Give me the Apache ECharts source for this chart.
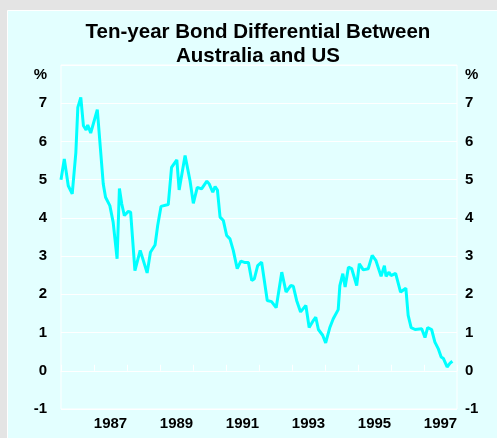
<!DOCTYPE html>
<html>
<head>
<meta charset="utf-8">
<script src="https://cdn.jsdelivr.net/npm/echarts@6/dist/echarts.min.js"></script>
<style>
    html, body { margin: 0; padding: 0; background: #e4e4e4; }
    #chart { width: 497px; height: 438px; }
</style>
</head>
<body>
<div id="chart"></div>
<script>
// decimal year of each reading, and the spread in percentage points
const dates = [
    1986.00, 1986.10, 1986.22, 1986.34, 1986.45, 1986.51, 1986.60, 1986.68, 1986.76, 1986.81,
    1986.90, 1987.10, 1987.28, 1987.35, 1987.48, 1987.58, 1987.70, 1987.77, 1987.84, 1987.92,
    1988.04, 1988.11, 1988.24, 1988.40, 1988.46, 1988.61, 1988.71, 1988.85, 1988.93, 1989.03,
    1989.25, 1989.35, 1989.51, 1989.58, 1989.76, 1989.91, 1990.01, 1990.13, 1990.26, 1990.42,
    1990.49, 1990.60, 1990.67, 1990.74, 1990.82, 1990.92, 1991.02, 1991.12, 1991.22, 1991.34,
    1991.45, 1991.58, 1991.68, 1991.78, 1991.86, 1991.96, 1992.08, 1992.25, 1992.38, 1992.52,
    1992.69, 1992.82, 1992.96, 1993.04, 1993.14, 1993.26, 1993.32, 1993.42, 1993.52, 1993.65,
    1993.72, 1993.80, 1993.93, 1994.02, 1994.15, 1994.25, 1994.40, 1994.45, 1994.54, 1994.61,
    1994.71, 1994.81, 1994.96, 1995.04, 1995.16, 1995.31, 1995.43, 1995.54, 1995.70, 1995.80,
    1995.85, 1995.94, 1996.00, 1996.14, 1996.29, 1996.35, 1996.45, 1996.52, 1996.61, 1996.73,
    1996.93, 1997.03, 1997.11, 1997.23, 1997.33, 1997.43, 1997.52, 1997.59, 1997.70, 1997.79,
    1997.86
]
const spread = [
    5.00, 5.54, 4.84, 4.63, 5.71, 6.89, 7.15, 6.41, 6.30, 6.43,
    6.22, 6.83, 4.89, 4.54, 4.32, 3.89, 2.93, 4.77, 4.37, 4.06,
    4.17, 4.15, 2.62, 3.15, 3.10, 2.56, 3.10, 3.29, 3.80, 4.30,
    4.35, 5.32, 5.52, 4.73, 5.63, 4.97, 4.38, 4.80, 4.76, 4.96,
    4.89, 4.67, 4.82, 4.73, 4.02, 3.93, 3.54, 3.45, 3.15, 2.67,
    2.87, 2.83, 2.83, 2.36, 2.41, 2.75, 2.84, 1.84, 1.81, 1.65,
    2.58, 2.06, 2.23, 2.21, 1.84, 1.54, 1.58, 1.71, 1.13, 1.32,
    1.40, 1.08, 0.93, 0.73, 1.14, 1.36, 1.60, 2.23, 2.54, 2.19,
    2.71, 2.67, 2.23, 2.80, 2.64, 2.67, 3.02, 2.89, 2.47, 2.75,
    2.47, 2.58, 2.49, 2.55, 2.06, 2.06, 2.16, 1.45, 1.13, 1.08,
    1.10, 0.87, 1.13, 1.08, 0.75, 0.58, 0.36, 0.32, 0.10, 0.20,
    0.25
]
const yearLabels = [1987, 1989, 1991, 1993, 1995, 1997]
const titleLines = ['Ten-year Bond Differential Between', 'Australia and US']

const font = 'Liberation Sans, Arial, sans-serif'
const chart = echarts.init(document.getElementById('chart'))

const yAxisBase = {
    type: 'value',
    min: -1,
    max: 8,
    interval: 1,
    axisLine: { show: false },
    axisTick: { show: false },
    splitLine: { lineStyle: { color: '#ffffff', width: 1 } }
}
const labelStyle = { fontFamily: font, fontSize: 15, fontWeight: 'bold', color: '#000' }

chart.setOption({
    backgroundColor: '#e4e4e4',
    animation: false,
    graphic: [
        {
            type: 'rect',
            z: -10,
            shape: { x: 7.5, y: 10.5, width: 500, height: 440 },
            style: { fill: '#e3ffff', stroke: '#ffffff', lineWidth: 1 }
        },
        // title, centred over the plot area
        {
            type: 'text', x: 258, y: 32,
            style: { text: titleLines[0], align: 'center', verticalAlign: 'middle', font: 'bold 20.5px ' + font, fill: '#000' }
        },
        {
            type: 'text', x: 258, y: 56,
            style: { text: titleLines[1], align: 'center', verticalAlign: 'middle', font: 'bold 20.5px ' + font, fill: '#000' }
        },
        {
            type: 'text', x: 47, y: 75,
            style: { text: '%', align: 'right', verticalAlign: 'middle', font: 'bold 15px ' + font, fill: '#000' }
        },
        {
            type: 'text', x: 465, y: 75,
            style: { text: '%', align: 'left', verticalAlign: 'middle', font: 'bold 15px ' + font, fill: '#000' }
        }
    ],
    grid: {
        left: 61,
        right: 40,
        top: 65,
        bottom: 29,
        show: true,
        backgroundColor: 'transparent',
        borderColor: '#ffffff',
        borderWidth: 1
    },
    xAxis: {
        type: 'value',
        min: 1986,
        max: 1998,
        interval: 1,
        axisLine: { lineStyle: { color: '#ffffff' } },
        axisTick: { inside: true, length: 6, lineStyle: { color: '#ffffff' } },
        splitLine: { show: false },
        axisLabel: Object.assign({
            margin: 7,
            padding: [0, 0, 0, 33],
            formatter: v => yearLabels.includes(v) ? String(v) : ''
        }, labelStyle)
    },
    yAxis: [
        Object.assign({}, yAxisBase, {
            position: 'left',
            axisLabel: Object.assign({ margin: 14, formatter: v => v === 8 ? '' : String(v) }, labelStyle)
        }),
        Object.assign({}, yAxisBase, {
            position: 'right',
            axisLabel: Object.assign({ margin: 8, formatter: v => v === 8 ? '' : String(v) }, labelStyle)
        })
    ],
    series: [{
        type: 'line',
        data: dates.map((d, i) => [d, spread[i]]),
        showSymbol: false,
        lineStyle: { color: '#00ffff', width: 3 }
    }]
})
</script>
</body>
</html>
